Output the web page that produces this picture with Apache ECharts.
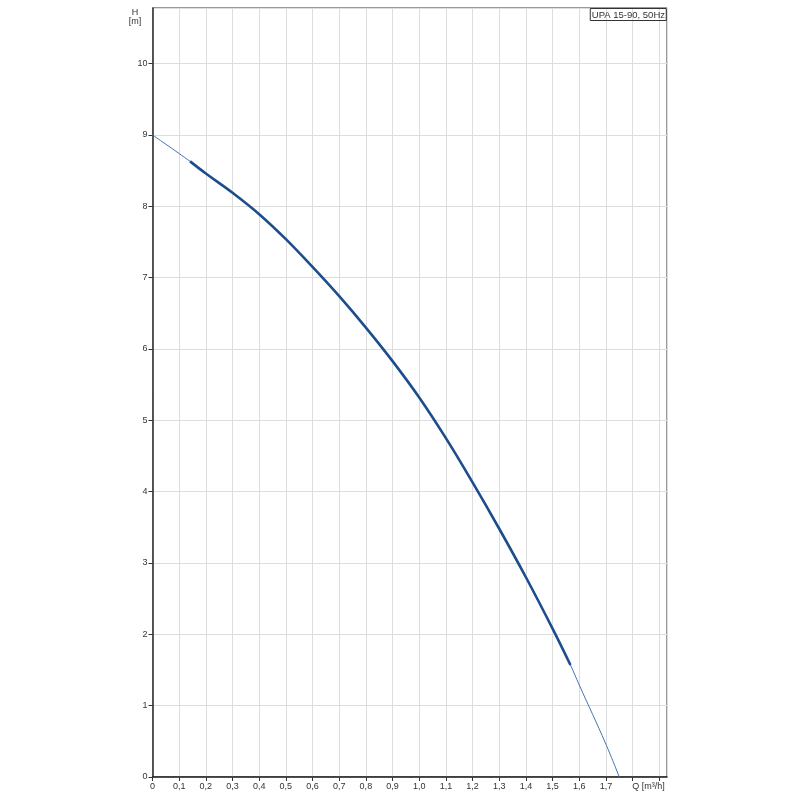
<!DOCTYPE html>
<html>
<head>
<meta charset="utf-8">
<script src="https://cdn.jsdelivr.net/npm/echarts@6/dist/echarts.min.js"></script>
<style>html,body{margin:0;padding:0;background:#fff}#c{width:800px;height:800px}</style>
</head>
<body>
<div id="c"></div>
<script>
// Full pump curve (thin line)
var qFull = [0, 0.141, 0.2, 0.3, 0.4, 0.5, 0.6, 0.7, 0.8, 0.9, 1.0, 1.1, 1.2, 1.3, 1.4, 1.5, 1.567, 1.6, 1.7, 1.75];
var hFull = [9.0, 8.63, 8.46, 8.19, 7.89, 7.54, 7.15, 6.74, 6.30, 5.83, 5.32, 4.75, 4.13, 3.48, 2.80, 2.08, 1.57, 1.29, 0.46, 0];
// Operating range (thick line)
var qOp = [0.141, 0.2, 0.3, 0.4, 0.5, 0.6, 0.7, 0.8, 0.9, 1.0, 1.1, 1.2, 1.3, 1.4, 1.5, 1.567];
var hOp = [8.63, 8.46, 8.19, 7.89, 7.54, 7.15, 6.74, 6.30, 5.83, 5.32, 4.75, 4.13, 3.48, 2.80, 2.08, 1.57];
var xTickLabels = ['0','0,1','0,2','0,3','0,4','0,5','0,6','0,7','0,8','0,9','1,0','1,1','1,2','1,3','1,4','1,5','1,6','1,7','Q [m³/h]',''];
var yTickLabels = ['0','1','2','3','4','5','6','7','8','9','10'];
var seriesName = 'UPA 15-90, 50Hz';

function pairs(xs, ys){ return xs.map(function(x,i){ return [x, ys[i]]; }); }

var chart = echarts.init(document.getElementById('c'), null, {renderer:'canvas'});
var font = 'Liberation Sans, Arial, sans-serif';
chart.setOption({
  animation: false,
  title: [
    {text: seriesName, right: 133, top: 8, borderColor:'#333', borderWidth:1, padding:[2,2,1,2], textStyle:{fontSize:9.5, fontWeight:'normal', color:'#333', fontFamily:font}}
  ],
  graphic: [
    {type:'text', x: 135, y: 8, silent:true, style:{text:'H\n[m]', align:'center', verticalAlign:'top', fontSize:9, lineHeight:9, fontFamily:font, fill:'#333'}}
  ],
  grid: {left: 152.5, right: 133, top: 8, bottom: 23, show: true, borderColor: '#333', borderWidth: 1},
  xAxis: {
    type: 'value', min: 0, max: 1.929, interval: 0.1,
    axisLine: {show: true, onZero:false, lineStyle: {color: '#222', width: 1.5}},
    axisTick: {show: true, length: 4, lineStyle:{color:'#333'}},
    splitLine: {show: true, lineStyle: {color: '#dddddd', width: 1}},
    axisLabel: {
      color: '#333', fontSize: 9, fontFamily: font, margin: 5, showMaxLabel: false,
      formatter: function(v){
        var i = Math.round(v*10);
        if (Math.abs(v*10 - i) > 1e-6) return '';
        var t = xTickLabels[i] || '';
        if (t.indexOf('Q') === 0) return '{q|' + t + '}';
        return t;
      },
      rich: {q: {fontSize: 9, fontFamily: font, color:'#333', padding:[0,0,0,32]}}
    }
  },
  yAxis: {
    type: 'value', min: 0, max: 10.78, interval: 1,
    axisLine: {show: true, onZero:false, lineStyle: {color: '#222', width: 1.5}},
    axisTick: {show: true, length: 4, lineStyle:{color:'#333'}},
    splitLine: {show: true, lineStyle: {color: '#dddddd', width: 1}},
    axisLabel: {
      color: '#333', fontSize: 9, fontFamily: font, margin: 5, showMaxLabel: false,
      formatter: function(v){
        var i = Math.round(v);
        if (Math.abs(v - i) > 1e-6) return '';
        return yTickLabels[i] || '';
      }
    }
  },
  series: [
    {type: 'line', name: seriesName, data: pairs(qFull, hFull), smooth: 0.4, showSymbol: false, lineStyle: {color: '#4575ad', width: 1}, z: 2},
    {type: 'line', name: seriesName + ' op', data: pairs(qOp, hOp), smooth: 0.4, showSymbol: false, lineStyle: {color: '#1c4d8c', width: 2.6}, z: 3}
  ]
});
</script>
</body>
</html>
